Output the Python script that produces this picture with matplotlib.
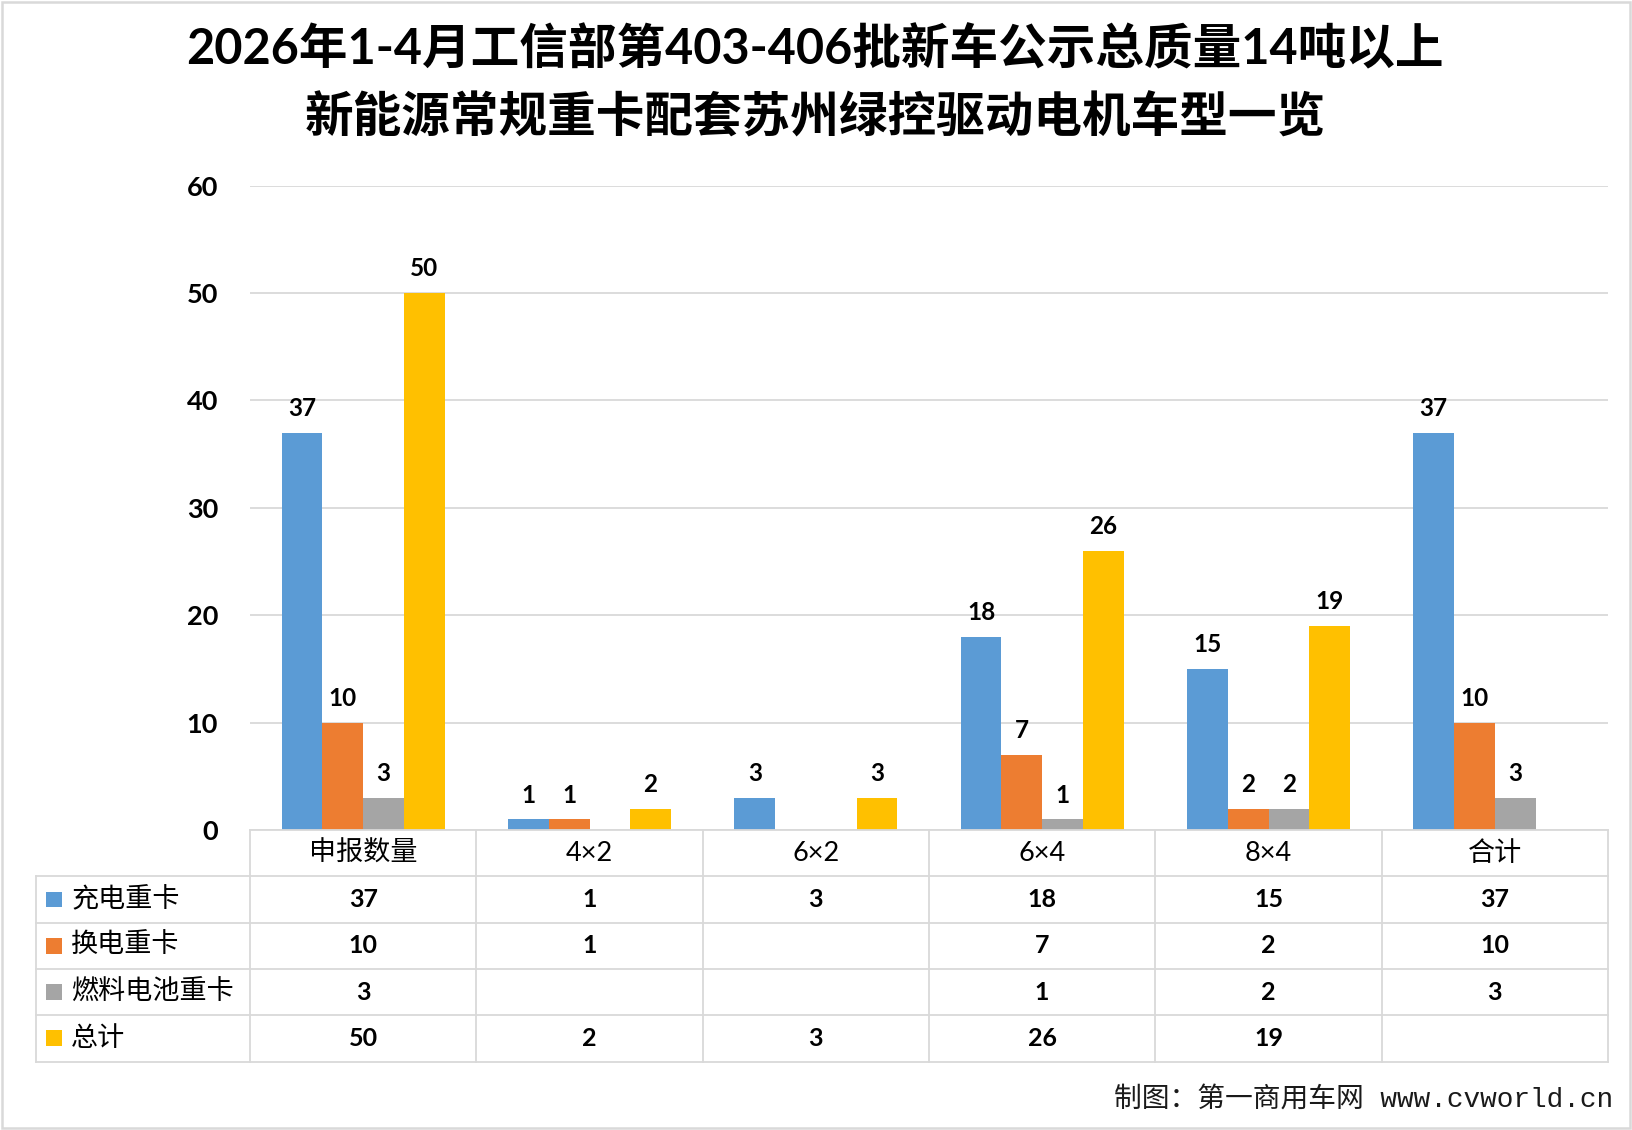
import matplotlib.pyplot as plt
from matplotlib.patches import Rectangle
import numpy as np

plt.rcParams['font.family'] = ['Lato', 'Noto Sans CJK SC', 'DejaVu Sans']

# datos
categorias = ['申报数量', '4×2', '6×2', '6×4', '8×4', '合计']
series = ['充电重卡', '换电重卡', '燃料电池重卡', '总计']
chongdian = [37, 1, 3, 18, 15, 37]
huandian = [10, 1, None, 7, 2, 10]
ranliao = [3, None, None, 1, 2, 3]
zongji = [50, 2, 3, 26, 19, None]
valores = [chongdian, huandian, ranliao, zongji]
colores = ['#5B9BD5', '#ED7D31', '#A5A5A5', '#FFC000']

titulo1 = '2026年1-4月工信部第403-406批新车公示总质量14吨以上'
titulo2 = '新能源常规重卡配套苏州绿控驱动电机车型一览'
pie = '制图：第一商用车网 www.cvworld.cn'

W, H = 1632, 1130
fig = plt.figure(figsize=(W / 100, H / 100), dpi=100)

def fx(px):
    return px / W

def fy(py):
    return 1 - py / H

gc = '#D9D9D9'

# marco exterior
fig.patches.append(Rectangle((fx(1.5), fy(1128)), fx(1628), 1126.5 / H, transform=fig.transFigure,
                             fill=False, edgecolor=gc, lw=1.8))

fig.text(fx(815), fy(49), titulo1, ha='center', va='center', fontsize=35, fontweight='bold')
fig.text(fx(815), fy(117), titulo2, ha='center', va='center', fontsize=35, fontweight='bold')

# --------- grafico de barras ---------
x_izq, x_der = 250, 1608
y_top, y_cero = 185.7, 830
ax = fig.add_axes([fx(x_izq), fy(y_cero), fx(x_der - x_izq), (y_cero - y_top) / H])
n = len(categorias)
x = np.arange(n)
ancho = 0.18
for i, (vals, c) in enumerate(zip(valores, colores)):
    off = (i - 1.5) * ancho
    for j, v in enumerate(vals):
        if v is None:
            continue
        ax.bar(x[j] + off, v, ancho, color=c, zorder=3)
        ax.annotate(str(v), (x[j] + off, v), xytext=(0, 12), textcoords='offset points',
                    ha='center', va='baseline', fontsize=17.5, fontweight='bold')
ax.set_xlim(-0.5, n - 0.5)
ax.set_ylim(0, 60)
ax.set_yticks(range(0, 61, 10))
ax.set_yticklabels([str(v) for v in range(0, 61, 10)], fontsize=19.5, fontweight='bold')
ax.tick_params(axis='y', length=0, pad=23)
ax.set_xticks([])
ax.grid(axis='y', color=gc, lw=1.3, zorder=0)
for s in ['top', 'right', 'left', 'bottom']:
    ax.spines[s].set_visible(False)

# --------- tabla ---------
x_tab = 36
y_tab_bot = 1061.5
cat_w = (x_der - x_izq) / n
lab_w = (x_izq - x_tab) / cat_w
tx = fig.add_axes([fx(x_tab), fy(y_tab_bot), fx(x_der - x_tab), (y_tab_bot - y_cero) / H])
tx.set_xlim(-0.5 - lab_w, n - 0.5)
tx.set_ylim(5, 0)
tx.axis('off')
lw_t = 1.3
tx.plot([-0.5, n - 0.5], [0, 0], color=gc, lw=lw_t, clip_on=False)
for r in range(1, 6):
    tx.plot([-0.5 - lab_w, n - 0.5], [r, r], color=gc, lw=lw_t, clip_on=False)
tx.plot([-0.5 - lab_w, -0.5 - lab_w], [1, 5], color=gc, lw=lw_t, clip_on=False)
for k in range(n + 1):
    tx.plot([k - 0.5, k - 0.5], [0, 5], color=gc, lw=lw_t, clip_on=False)

for j, cat in enumerate(categorias):
    tx.text(j, 0.5, cat, ha='center', va='center', fontsize=19.5)
sq = 16 / cat_w
for i, (nom, vals, c) in enumerate(zip(series, valores, colores)):
    r = i + 1.5
    tx.add_patch(Rectangle((-0.5 - lab_w + 10 / cat_w, r - 0.17), sq, 0.34, color=c, lw=0))
    tx.text(-0.5 - lab_w + 35 / cat_w, r, nom, ha='left', va='center', fontsize=19.5)
    for j, v in enumerate(vals):
        if v is None:
            continue
        tx.text(j, r, str(v), ha='center', va='center', fontsize=18, fontweight='bold')

fig.text(fx(1613), fy(1100), pie, ha='right', va='center', fontsize=20, color='#1a1a1a',
         family=['Liberation Mono', 'Noto Sans CJK SC'])

plt.savefig('out.png', dpi=100)
